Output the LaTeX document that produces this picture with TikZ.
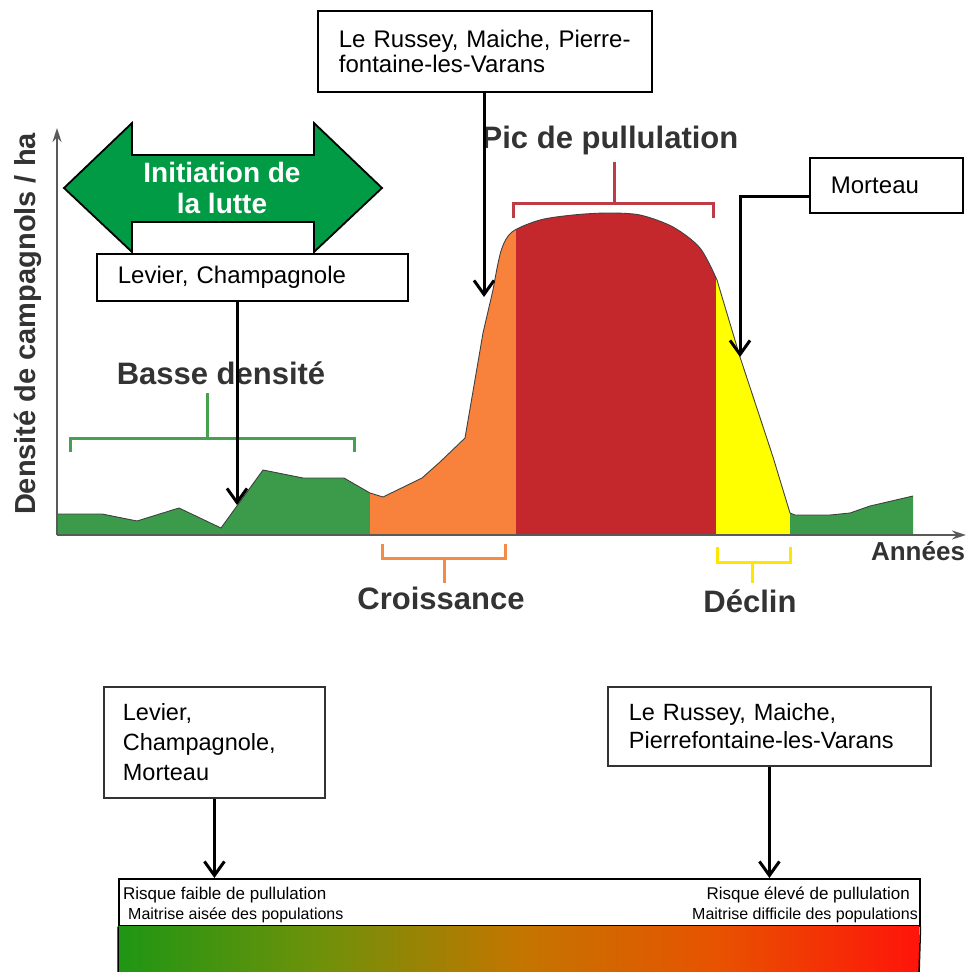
\documentclass[tikz,border=0pt]{standalone}
\usepackage{fontspec}
\setmainfont{Liberation Sans}
\usetikzlibrary{arrows.meta}
\definecolor{lowgreen}{RGB}{60,155,75}
\definecolor{groworange}{RGB}{248,130,60}
\definecolor{peakred}{RGB}{196,40,45}
\definecolor{declyellow}{RGB}{255,255,0}
\definecolor{brgreen}{RGB}{70,160,80}
\definecolor{brred}{RGB}{190,60,70}
\definecolor{brorange}{RGB}{245,140,70}
\definecolor{bryellow}{RGB}{255,230,0}
\definecolor{luttegreen}{RGB}{0,155,68}
\definecolor{labelgray}{RGB}{51,51,51}
\definecolor{axisgray}{RGB}{90,90,90}
\definecolor{riskgreen}{RGB}{30,150,20}
\definecolor{riskolive}{RGB}{110,145,10}
\definecolor{riskmid}{RGB}{195,118,0}
\definecolor{riskorange}{RGB}{232,82,0}
\definecolor{riskred}{RGB}{255,20,10}
\pgfdeclarehorizontalshading{riskshade}{100bp}{color(0bp)=(riskgreen); color(25bp)=(riskgreen); color(37.5bp)=(riskolive); color(50bp)=(riskmid); color(62.5bp)=(riskorange); color(75bp)=(riskred); color(100bp)=(riskred)}
\tikzstyle{townbox}=[draw=black, line width=1.8pt, fill=white, anchor=north west, align=left, inner xsep=21pt, inner ysep=0pt, font=\fontsize{24}{25}\selectfont]
\tikzstyle{phase}=[font=\bfseries\fontsize{31}{33}\selectfont, text=labelgray, inner sep=0pt]
\tikzstyle{bracket}=[line width=3pt]
\tikzstyle{pointer}=[line width=3pt, -{Straight Barb[length=14pt,width=20pt]}]
\tikzstyle{axis}=[line width=1.8pt, axisgray, -{Stealth[length=14pt,width=9pt]}]
\tikzstyle{risktext}=[inner sep=0pt, anchor=base west]

\def\profile{(57,514) -- (102,514) -- (137,521) -- (179,508) -- (221,528) -- (263,470) -- (303,478) -- (344,478) -- (370,493) -- (383,497) -- (422,478) -- (440,462) -- (465,438) -- (483,333) -- plot[smooth, tension=0.5] coordinates {(493,290) (501,251) (512,232) (540,220) (573,215) (607,213) (640,215) (673,227) (700,248) (717,280)} -- (740,357) -- (773,457) -- (790,513) -- (795,515) -- (830,515) -- (850,513) -- (870,506) -- (913,496)}

\begin{document}
\begin{tikzpicture}[x=1pt, y=-1pt]
    \useasboundingbox (0,0) rectangle (966,972);

    % population curve, one colour per phase
    \foreach \xa/\xb/\col in {57/370/lowgreen, 370/516/groworange, 516/716/peakred, 716/790/declyellow, 790/913/lowgreen}
    {
        \begin{scope}
            \clip (\xa,100) rectangle (\xb,535);
            \fill[\col] (57,535) -- \profile -- (913,535) -- cycle;
        \end{scope}
    }
    \draw[line width=0.9pt, black!75] \profile;

    % axes
    \coordinate (origin) at (57,535);
    \coordinate (ytop) at (57,128);
    \coordinate (xend) at (966,535);
    \draw[axis] (origin) -- (ytop);
    \draw[axis] (origin) -- (xend);
    \node[phase, rotate=90, anchor=base, font=\bfseries\fontsize{29}{31}\selectfont] (ylabel) at (35,324) {Densité de campagnols / ha};
    \node[phase, font=\bfseries\fontsize{26}{28}\selectfont] (annees) at (918,551) {Années};

    % phase brackets
    \foreach \xa/\xb/\yb/\ytick/\xs/\ys/\col in {70/354/438/452/207/393/brgreen, 513/713/203/218/614/162/brred, 382/505/558/544/444/583/brorange, 717/790/562/547/752/583/bryellow}
        \draw[bracket, \col] (\xa,\ytick) -- (\xa,\yb) -- (\xb,\yb) -- (\xb,\ytick) (\xs,\yb) -- (\xs,\ys);

    \foreach \x/\y/\name/\txt in {221/373/basse/{Basse densité}, 610/140/pic/{Pic de pullulation}, 441/598/croissance/{Croissance}, 750/601/declin/{Déclin}}
        \node[phase] (\name) at (\x,\y) {\txt};

    % initiation de la lutte
    \draw[line width=1.8pt, fill=luttegreen] (64,188) -- (132,123) -- (132,155) -- (314,155) -- (314,123) -- (382,188) -- (314,252) -- (314,222) -- (132,222) -- (132,252) -- cycle;
    \node[align=center, text=white, font=\bfseries\fontsize{28}{31}\selectfont] (lutte) at (222,188) {Initiation de\\la lutte};

    % towns on the curve
    \node[townbox, minimum width=311, minimum height=47, text width=269] (levier) at (96,253) {Levier, Champagnole};
    \node[townbox, minimum width=334, minimum height=81, text width=292] (russey) at (317,10) {Le Russey, Maiche, Pierre-\\fontaine-les-Varans};
    \node[townbox, minimum width=153, minimum height=55, text width=111] (morteau) at (809,157) {Morteau};

    \coordinate (levtip) at (237,505);
    \coordinate (rustip) at (484,297);
    \coordinate (mortip) at (740,357);
    \draw[pointer] (levtip |- levier.south) -- (levtip);
    \draw[pointer] (rustip |- russey.south) -- (rustip);
    \draw[pointer] ([yshift=-11pt]morteau.west) -| (mortip);

    % risk scale
    \node[draw=black, line width=1.5pt, anchor=north west, minimum width=801, minimum height=47, inner sep=0pt] (risk) at (118,878) {};
    \shade[shading=riskshade] (risk.south west) rectangle (919,975);
    \draw[line width=1.5pt] (risk.south west) -- (118,975) (risk.south east) -- (919,975);
    \node[risktext, font=\fontsize{17}{18}\selectfont] (lowrisk) at (123,899) {Risque faible de pullulation};
    \node[risktext, font=\fontsize{16}{18}\selectfont] (lowctrl) at (128,919) {Maitrise aisée des populations};
    \node[risktext, anchor=base east, font=\fontsize{17}{18}\selectfont] (highrisk) at (910,899) {Risque élevé de pullulation};
    \node[risktext, anchor=base east, font=\fontsize{16}{18}\selectfont] (highctrl) at (918,919) {Maitrise difficile des populations};

    \node[townbox, draw=black!80, minimum width=221, minimum height=111, text width=183, inner xsep=19pt, font=\fontsize{23.5}{30}\selectfont] (levier2) at (103,686) {Levier,\\Champagnole,\\Morteau};
    \node[townbox, draw=black!80, minimum width=323, minimum height=79, text width=281, font=\fontsize{23.5}{28}\selectfont] (russey2) at (607,686) {Le Russey, Maiche,\\Pierrefontaine-les-Varans};

    \draw[pointer] (levier2.south) -- (levier2.south |- risk.north);
    \draw[pointer] (russey2.south) -- (russey2.south |- risk.north);
\end{tikzpicture}
\end{document}
